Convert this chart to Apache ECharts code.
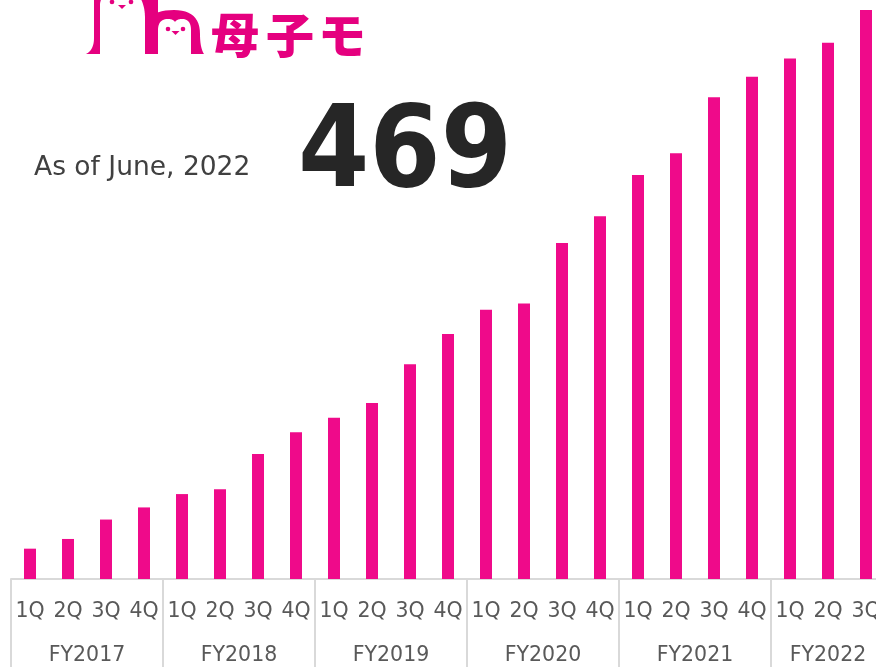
<!DOCTYPE html>
<html>
<head>
<meta charset="utf-8">
<title>母子モ</title>
<script src="https://cdn.jsdelivr.net/npm/echarts@6/dist/echarts.min.js"></script>
<style>
  html, body { margin: 0; padding: 0; background: #ffffff; }
  #chart { width: 876px; height: 667px; }
</style>
</head>
<body>
<div id="chart"></div>
<script>
// Quarter tick labels, one per bar
const quarterLabels = [
  '1Q', '2Q', '3Q', '4Q',
  '1Q', '2Q', '3Q', '4Q',
  '1Q', '2Q', '3Q', '4Q',
  '1Q', '2Q', '3Q', '4Q',
  '1Q', '2Q', '3Q', '4Q',
  '1Q', '2Q', '3Q'
];
// Fiscal years and how many quarters each one covers
const fiscalYears = ['FY2017', 'FY2018', 'FY2019', 'FY2020', 'FY2021', 'FY2022'];
const quartersPerYear = [4, 4, 4, 4, 4, 3];
// Cumulative count at the end of each quarter
const counts = [
  25, 33, 49, 59,
  70, 74, 103, 121,
  133, 145, 177, 202,
  222, 227, 277, 299,
  333, 351, 397, 414,
  429, 442, 469
];
const latestLabel = 'As of June, 2022';

const PINK = '#EF0A8A';
const LOGO_PINK = '#E5007F';
const LINE_GRAY = '#D9D9D9';
const LABEL_GRAY = '#595959';

// Year boundaries and year-label centres on a 0..n linear scale
const yearStarts = [];
const yearCentres = [];
let acc = 0;
quartersPerYear.forEach(n => {
  yearStarts.push(acc);
  yearCentres.push(acc + n / 2);
  acc += n;
});

// Outline builder for the penguin mark: straight points and quadratic curves
function outline(cmds) {
  const pts = [];
  let cur = null;
  cmds.forEach(c => {
    if (c[0] === 'L') {
      cur = [c[1], c[2]];
      pts.push(cur);
    } else if (c[0] === 'Q') {
      const [, cx, cy, x, y] = c;
      for (let i = 1; i <= 12; i++) {
        const t = i / 12, u = 1 - t;
        pts.push([u * u * cur[0] + 2 * u * t * cx + t * t * x,
                  u * u * cur[1] + 2 * u * t * cy + t * t * y]);
      }
      cur = [x, y];
    }
  });
  return pts;
}

const leftBody = outline([
  ['L', 86, 54], ['Q', 94, 50, 94, 38], ['L', 94, -20], ['L', 158, -20], ['L', 158, 54]
]);
const leftFace = outline([
  ['L', 100, 54], ['L', 100, 4], ['Q', 101, -4, 106, -6], ['L', 138, -6],
  ['Q', 145, 4, 145, 18], ['L', 145, 54]
]);
const rightBody = outline([
  ['L', 145, 54], ['L', 145, 30], ['Q', 146, 10, 174, 10], ['Q', 200, 10, 200, 34],
  ['Q', 200, 48, 204, 54]
]);
const rightFace = outline([
  ['L', 158, 54], ['L', 158, 30], ['Q', 158, 19, 168, 19], ['Q', 173, 19, 175, 22],
  ['Q', 177, 19, 182, 19], ['Q', 191, 19, 191, 30], ['L', 191, 54]
]);

const chart = echarts.init(document.getElementById('chart'), null, { renderer: 'canvas' });

const brandStyle = {
  fontSize: 48, fontWeight: 900, fontFamily: 'Noto Sans CJK JP',
  fill: LOGO_PINK, align: 'center', verticalAlign: 'middle'
};

const option = {
  animation: false,
  backgroundColor: '#ffffff',
  grid: { left: 11, top: 10, width: 874, bottom: 88, containLabel: false, outerBoundsMode: 'none' },
  xAxis: [
    {
      type: 'category',
      data: quarterLabels,
      position: 'bottom',
      boundaryGap: true,
      axisLine: { show: true, lineStyle: { color: LINE_GRAY, width: 2 } },
      axisTick: { show: false },
      axisLabel: {
        interval: 0,
        margin: 22,
        fontSize: 20.5,
        fontFamily: 'DejaVu Sans',
        color: LABEL_GRAY
      }
    },
    {
      type: 'value',
      position: 'bottom',
      min: 0,
      max: quarterLabels.length,
      axisLine: { show: false },
      splitLine: { show: false },
      axisTick: {
        show: true,
        inside: false,
        length: 90,
        customValues: yearStarts,
        lineStyle: { color: LINE_GRAY, width: 2 }
      },
      axisLabel: {
        show: true,
        margin: 66,
        fontSize: 20.5,
        fontFamily: 'DejaVu Sans',
        color: LABEL_GRAY,
        customValues: yearCentres,
        formatter: v => {
          const i = yearCentres.indexOf(v);
          return i >= 0 ? fiscalYears[i] : '';
        }
      }
    }
  ],
  yAxis: {
    type: 'value',
    min: 0,
    max: 'dataMax',
    show: false,
    splitLine: { show: false }
  },
  series: [
    {
      type: 'bar',
      xAxisIndex: 0,
      data: counts,
      barWidth: 12,
      itemStyle: { color: PINK }
    }
  ],
  graphic: [
    // Penguin mark
    { type: 'polygon', shape: { points: leftBody }, style: { fill: LOGO_PINK } },
    { type: 'polygon', shape: { points: leftFace }, style: { fill: '#ffffff' } },
    { type: 'polygon', shape: { points: rightBody }, style: { fill: LOGO_PINK } },
    { type: 'polygon', shape: { points: rightFace }, style: { fill: '#ffffff' } },
    // Eyes
    { type: 'circle', shape: { cx: 112, cy: 2, r: 2.3 }, style: { fill: LOGO_PINK } },
    { type: 'circle', shape: { cx: 131, cy: 2, r: 2.3 }, style: { fill: LOGO_PINK } },
    { type: 'circle', shape: { cx: 168, cy: 29, r: 2.3 }, style: { fill: LOGO_PINK } },
    { type: 'circle', shape: { cx: 183, cy: 29, r: 2.3 }, style: { fill: LOGO_PINK } },
    // Beaks
    { type: 'polygon', shape: { points: [[118, 5], [126, 5], [122, 9]] }, style: { fill: LOGO_PINK } },
    { type: 'polygon', shape: { points: [[171.5, 31], [179.5, 31], [175.5, 35]] }, style: { fill: LOGO_PINK } },
    // Brand name
    { type: 'text', x: 235, y: 35, style: Object.assign({ text: '母' }, brandStyle) },
    { type: 'text', x: 290, y: 35, style: Object.assign({ text: '子' }, brandStyle) },
    { type: 'text', x: 342, y: 35, style: Object.assign({ text: 'モ' }, brandStyle) },
    // Date note and headline figure
    {
      type: 'text', x: 34, y: 168,
      style: { text: latestLabel, fontSize: 26.5, fontFamily: 'DejaVu Sans',
               fill: '#404040', align: 'left', verticalAlign: 'middle' }
    },
    {
      type: 'text', x: 298, y: 156,
      style: { text: String(counts[counts.length - 1]), fontSize: 114, fontWeight: 'bold',
               fontFamily: "'DejaVu Sans Condensed', 'DejaVu Sans'",
               fill: '#262626', align: 'left', verticalAlign: 'middle' }
    }
  ]
};

chart.setOption(option);
</script>
</body>
</html>
